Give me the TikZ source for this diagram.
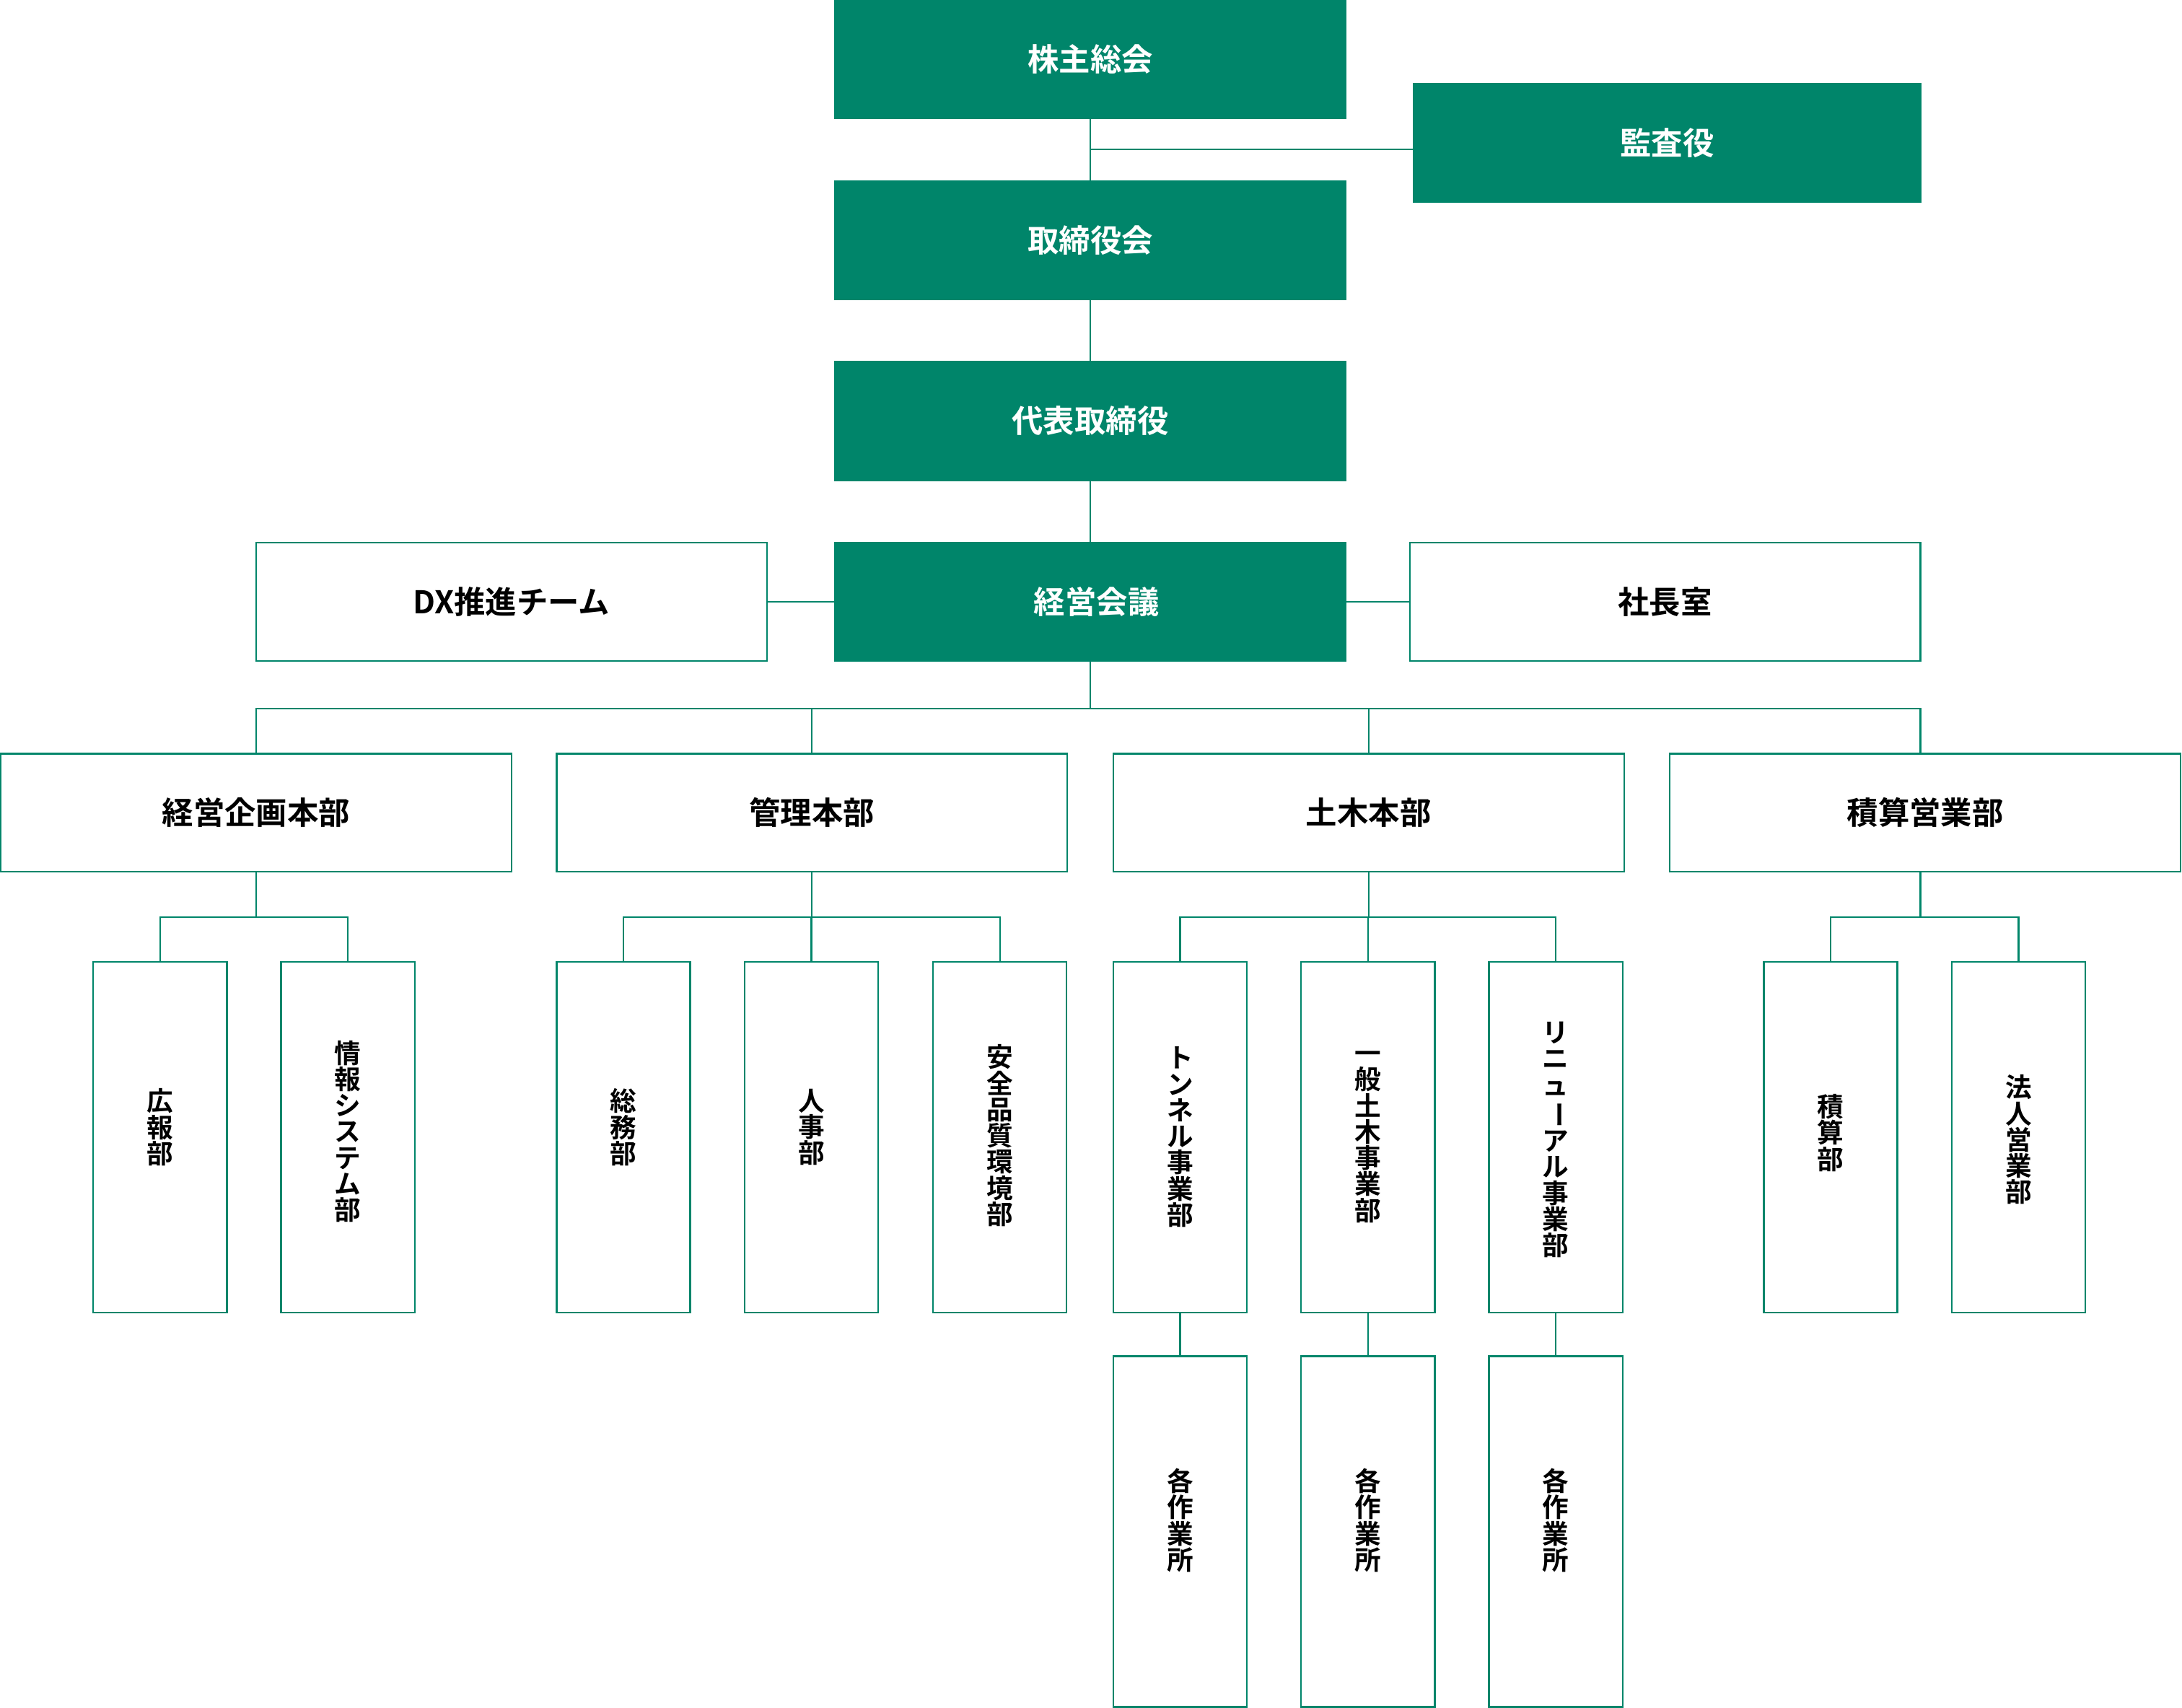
\documentclass[tikz,border=0pt]{standalone}
\usepackage{fontspec}
\usepackage{graphicx}
\usetikzlibrary{calc}
\newfontfamily\jp{Noto Sans CJK JP}[BoldFont={Noto Sans CJK JP Bold}]
\definecolor{kgreen}{HTML}{00856A}
\newcommand{\chobar}{\rotatebox[origin=c]{-90}{ー}}
% vertical unit: name, x, y, text, upward text shift
\newcommand{\vunit}[5]{%
  \node[vbox] (#1) at (#2,#3) {};
  \node[vtext] (#1-t) at ([yshift=#5]#1.center) {#4};}
\begin{document}
\begin{tikzpicture}[x=0.5pt,y=-0.5pt,
  every node/.style={inner sep=0pt, outer sep=0pt},
  base/.style={draw=kgreen, line width=0.6pt, font=\jp\bfseries\fontsize{11.25}{12}\selectfont},
  gbox/.style={base, fill=kgreen, text=white, minimum width=183.5pt, minimum height=42.5pt},
  wbox/.style={base, fill=white, text=black, minimum width=183.5pt, minimum height=42.5pt},
  vbox/.style={draw=kgreen, line width=0.6pt, fill=white, minimum width=48pt, minimum height=126pt},
  vtext/.style={align=center, font=\jp\bfseries\fontsize{9.5}{9.4}\selectfont},
  link/.style={draw=kgreen, line width=0.6pt}]
\useasboundingbox (0,0) rectangle (1568,1227);
% top
\node[gbox] (kabu) at (783.5,42.5) {株主総会};
\node[gbox, minimum width=182pt] (kansa) at (1198,102.5) {監査役};
\node[gbox] (tori) at (783.5,172.5) {取締役会};
\node[gbox] (daihyo) at (783.5,302.5) {代表取締役};
\node[gbox] (kaigi) at (783.5,432.5) {\hspace*{4.5pt}経営会議};
\node[wbox] (dx) at (367.5,432.5) {DX推進チーム};
\node[wbox] (shacho) at (1196.5,432.5) {社長室};
% level 2
\node[wbox] (kikaku) at (184,584) {経営企画本部};
\node[wbox] (kanri) at (583.5,584) {管理本部};
\node[wbox] (doboku) at (983.5,584) {土木本部};
\node[wbox] (sekisan) at (1383.5,584) {積算営業部};
% level 3
\vunit{koho}{115}{817}{広\\報\\部}{3.5pt}
\vunit{joho}{250}{817}{情\\報\\シ\\ス\\テ\\ム\\部}{2pt}
\vunit{somu}{448}{817}{総\\務\\部}{3.5pt}
\vunit{jinji}{583}{817}{人\\事\\部}{3.5pt}
\vunit{anzen}{718.5}{817}{安\\全\\品\\質\\環\\境\\部}{0.5pt}
\vunit{tunnel}{848}{817}{ト\\ン\\ネ\\ル\\事\\業\\部}{0pt}
\vunit{ippan}{983}{817}{一\\般\\土\\木\\事\\業\\部}{0pt}
\vunit{renew}{1118}{817}{リ\\ニ\\ュ\\\chobar\\ア\\ル\\事\\業\\部}{-1pt}
\vunit{sekibu}{1315.5}{817}{積\\算\\部}{1.5pt}
\vunit{hojin}{1450.5}{817}{法\\人\\営\\業\\部}{-1pt}
% level 4
\vunit{saku1}{848}{1100.5}{各\\作\\業\\所}{4pt}
\vunit{saku2}{983}{1100.5}{各\\作\\業\\所}{4pt}
\vunit{saku3}{1118}{1100.5}{各\\作\\業\\所}{4pt}
% connectors top
\draw[link] (kabu.south) -- (tori.north);
\coordinate (mid) at ($(kabu.south)!0.5!(tori.north)$);
\draw[link] (mid) -- (mid -| kansa.west);
\draw[link] (tori.south) -- (daihyo.north);
\draw[link] (daihyo.south) -- (kaigi.north);
\draw[link] (dx.east) -- (kaigi.west);
\draw[link] (kaigi.east) -- (shacho.west);
% level 2 bus
\coordinate (bus2) at (783.5,509);
\coordinate (b4) at (1380,659);
\draw[link] (kaigi.south) -- (bus2);
\foreach \n in {kikaku,kanri,doboku} \draw[link] (bus2) -| (\n.north);
\draw[link] (bus2) -| (sekisan.north -| b4);
% level 3 buses
\coordinate (b1) at (184,659);
\draw[link] (kikaku.south) -- (b1);
\foreach \n in {koho,joho} \draw[link] (b1) -| (\n.north);
\coordinate (b2) at (583.5,659);
\draw[link] (kanri.south) -- (b2);
\foreach \n in {somu,jinji,anzen} \draw[link] (b2) -| (\n.north);
\coordinate (b3) at (983.5,659);
\draw[link] (doboku.south) -- (b3);
\foreach \n in {tunnel,ippan,renew} \draw[link] (b3) -| (\n.north);
\draw[link] (sekisan.south -| b4) -- (b4);
\foreach \n in {sekibu,hojin} \draw[link] (b4) -| (\n.north);
% level 4
\draw[link] (tunnel.south) -- (saku1.north);
\draw[link] (ippan.south) -- (saku2.north);
\draw[link] (renew.south) -- (saku3.north);
\end{tikzpicture}
\end{document}
